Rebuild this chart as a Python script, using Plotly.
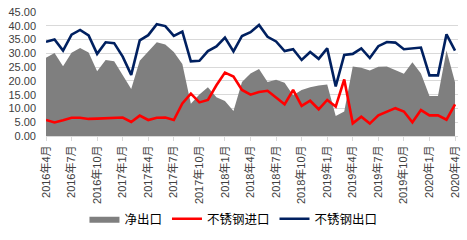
import plotly.graph_objects as go

months = []
y, m = 2016, 4
for _ in range(49):
    months.append(f"{y}年{m}月")
    m += 1
    if m > 12:
        m = 1
        y += 1

export_vals = [34.2, 35.0, 31.0, 36.8, 38.5, 36.5, 29.8, 34.0, 33.7, 28.8,
               22.2, 34.7, 36.6, 40.6, 39.9, 36.3, 37.9, 27.1, 27.3, 30.8,
               32.5, 35.7, 30.7, 36.3, 37.7, 40.3, 36.0, 34.3, 30.8, 31.5,
               27.6, 30.5, 28.0, 31.8, 18.0, 29.4, 29.8, 31.8, 28.3, 32.6,
               34.1, 33.9, 31.5, 31.8, 32.1, 22.0, 22.0, 36.9, 31.0]
import_vals = [5.8, 4.9, 5.7, 6.6, 6.6, 6.2, 6.3, 6.4, 6.6, 6.7,
               5.1, 7.4, 5.8, 6.6, 6.7, 5.8, 11.8, 15.4, 12.2, 13.1,
               18.4, 23.0, 21.6, 16.7, 15.0, 16.0, 16.4, 13.9, 11.5, 16.7,
               10.9, 12.8, 9.7, 13.1, 10.7, 20.5, 4.6, 7.0, 4.5, 7.5,
               8.9, 10.1, 8.9, 5.0, 9.4, 7.5, 7.5, 5.9, 11.5]
net_vals = [28.4, 30.1, 25.3, 30.2, 31.9, 30.3, 23.5, 27.6, 27.1, 22.1,
            17.1, 27.3, 30.8, 34.0, 33.2, 30.5, 26.1, 11.7, 15.1, 17.7,
            14.1, 12.7, 9.1, 19.6, 22.7, 24.3, 19.6, 20.4, 19.3, 14.8,
            16.7, 17.7, 18.3, 18.7, 7.3, 8.9, 25.2, 24.8, 23.8, 25.1,
            25.2, 23.8, 22.6, 26.8, 22.7, 14.5, 14.5, 31.0, 19.5]
tick_labels = months[::3]
yticks = [0, 5, 10, 15, 20, 25, 30, 35, 40, 45]

FONT = "Liberation Sans, Arial, Noto Sans CJK SC, sans-serif"

fig = go.Figure()
fig.add_trace(go.Scatter(x=months, y=net_vals, name="净出口", mode="lines",
                         fill="tozeroy", fillcolor="#7f7f7f",
                         line=dict(width=0, color="#7f7f7f")))
fig.add_trace(go.Scatter(x=months, y=import_vals, name="不锈钢进口", mode="lines",
                         line=dict(width=2.6, color="#ff0000")))
fig.add_trace(go.Scatter(x=months, y=export_vals, name="不锈钢出口", mode="lines",
                         line=dict(width=2.6, color="#002060")))

fig.update_layout(
    width=467, height=240,
    margin=dict(l=46, r=6, t=11, b=97),
    paper_bgcolor="white", plot_bgcolor="white",
    font=dict(family=FONT, size=11, color="#404040"),
    showlegend=True,
    legend=dict(orientation="h", x=0.455, xanchor="center", y=-0.67, yanchor="middle",
                font=dict(size=12.5, color="#000000"), traceorder="normal",
                itemwidth=30),
)
fig.update_xaxes(
    type="category", range=[0, 48.35],
    tickmode="array", tickvals=tick_labels, ticktext=tick_labels,
    tickangle=-90, tickfont=dict(size=11, color="#404040"),
    ticks="outside", ticklen=4, tickcolor="#d9d9d9",
    showline=True, linecolor="#d9d9d9", linewidth=1,
    showgrid=False, zeroline=False,
)
fig.update_yaxes(
    range=[0, 45], tickvals=yticks, tickformat=".2f",
    tickfont=dict(size=11, color="#404040"),
    showgrid=True, gridcolor="#d9d9d9", gridwidth=1,
    zeroline=False, showline=False, ticklabelstandoff=9,
)

fig.write_html("out.html")
